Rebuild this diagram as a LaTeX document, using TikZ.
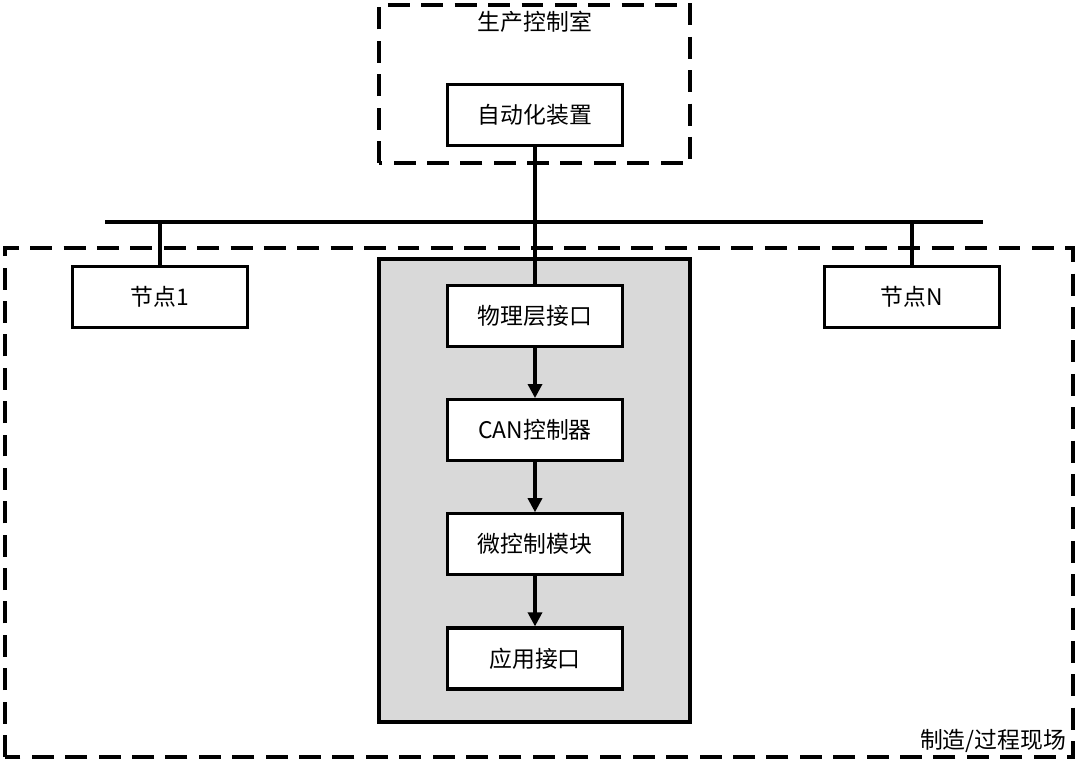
\documentclass[tikz,border=0pt]{standalone}
\usepackage{fontspec}
\setmainfont{Noto Sans CJK SC}
\definecolor{panelgray}{RGB}{217, 217, 217}
\usetikzlibrary{arrows.meta,positioning,calc}

\begin{document}
\begin{tikzpicture}[
                block/.style={draw,line width=1.8pt,fill=white,minimum width=3.5cm,minimum height=1.22cm,font=\fontsize{13}{15}\selectfont},
                zone/.style={draw,line width=1.8pt,dash pattern=on 12.5pt off 6.5pt},
                flow/.style={-{Triangle[length=8pt,width=8pt]},line width=1.8pt},
                wire/.style={line width=1.8pt},
                node distance=1.0cm
            ]
                \useasboundingbox (0,0) rectangle (21.6,15.34);

                % Control room
                \draw[zone] (7.58,12.08) rectangle (13.8,15.24);
                \node[font=\fontsize{13}{15}\selectfont] (room) at (10.7,14.9) {生产控制室};
                \node[block] (auto) at (10.7,13.04) {自动化装置};

                % Field
                \draw[zone] (0.1,0.2) rectangle (21.46,10.38);
                \node[font=\fontsize{13}{15}\selectfont,anchor=east,inner sep=0pt] (field) at (21.33,0.52) {制造/过程现场};

                % Bus
                \coordinate (busL) at (2.1,10.9);
                \coordinate (busR) at (19.66,10.9);
                \draw[wire] (busL) -- (busR);

                % Nodes
                \node[block] (node1) at (3.2,9.4) {节点1};
                \node[block] (nodeN) at (18.24,9.4) {节点N};

                % Node internals
                \draw[line width=1.8pt,fill=panelgray] (7.58,0.9) rectangle (13.8,10.16);
                \node[block] (phy) at (10.7,9.02) {物理层接口};
                \node[block,below=of phy] (can) {CAN控制器};
                \node[block,below=of can] (mcu) {微控制模块};
                \node[block,below=of mcu] (app) {应用接口};

                % Connections
                \draw[wire] (auto) -- (phy);
                \draw[wire] (node1.north) -- (node1.north |- busL);
                \draw[wire] (nodeN.north) -- (nodeN.north |- busR);
                \draw[flow] (phy) -- (can);
                \draw[flow] (can) -- (mcu);
                \draw[flow] (mcu) -- (app);
            \end{tikzpicture}
\end{document}
